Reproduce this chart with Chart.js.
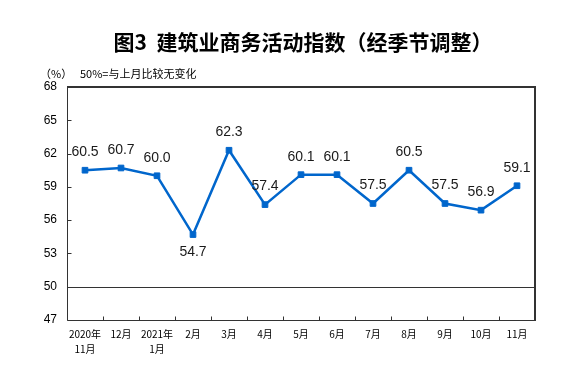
<!DOCTYPE html>
<html>
<head>
<meta charset="utf-8">
<script src="https://cdn.jsdelivr.net/npm/chart.js@4.4.1/dist/chart.umd.min.js"></script>
<style>
  html, body { margin: 0; padding: 0; background: #fff; }
  #wrap { position: relative; width: 586px; height: 377px; }
  #title { position: absolute; left: 6px; width: 594px; top: 27px; text-align: center;
    font-family: "Noto Sans CJK SC", sans-serif; font-weight: bold; font-size: 21px; line-height: 28px; color: #000; }
  #unit { position: absolute; left: 40px; top: 65px; font-family: "Noto Sans CJK SC", sans-serif; font-size: 11px; line-height: 16px; color: #000; }
  #note { position: absolute; left: 80px; top: 65px; font-family: "Noto Sans CJK SC", sans-serif; font-size: 11px; line-height: 16px; color: #000; }
  canvas { position: absolute; left: 0; top: 0; }
</style>
</head>
<body>
<div id="wrap">
  <canvas id="c" width="586" height="377"></canvas>
  <div id="title">图3&nbsp;&nbsp;建筑业商务活动指数（经季节调整）</div>
  <div id="unit">（%）</div>
  <div id="note">50%=与上月比较无变化</div>
</div>
<script>
const categories = [["2020年", "11月"], "12月", ["2021年", "1月"], "2月", "3月", "4月", "5月", "6月", "7月", "8月", "9月", "10月", "11月"];
const values = [60.5, 60.7, 60.0, 54.7, 62.3, 57.4, 60.1, 60.1, 57.5, 60.5, 57.5, 56.9, 59.1];
const labelBelow = [false, false, false, true, false, false, false, false, false, false, false, false, false];
const yMin = 47, yMax = 68, yStep = 3;

const BLUE = '#0066cc';

const framePlugin = {
  id: 'frame',
  beforeDatasetsDraw(chart) {
    const { ctx, chartArea: a, scales } = chart;
    const x = scales.x, y = scales.y;
    ctx.save();
    ctx.strokeStyle = '#333';
    ctx.lineWidth = 1;
    const y50 = Math.round(y.getPixelForValue(50)) + 0.5;
    ctx.beginPath(); ctx.moveTo(a.left, y50); ctx.lineTo(a.right, y50); ctx.stroke();
    const L = Math.round(a.left) + 0.5, B = Math.round(a.bottom) + 0.5;
    const R = Math.round(a.right), T = Math.round(a.top);
    ctx.beginPath(); ctx.moveTo(L, T); ctx.lineTo(L, B); ctx.lineTo(R, B); ctx.stroke();
    ctx.lineWidth = 2;
    ctx.beginPath(); ctx.moveTo(L - 0.5, T); ctx.lineTo(R, T); ctx.lineTo(R, B + 0.5); ctx.stroke();
    ctx.lineWidth = 1;
    y.ticks.forEach(t => {
      const py = Math.round(y.getPixelForValue(t.value)) + 0.5;
      ctx.beginPath(); ctx.moveTo(L, py); ctx.lineTo(L + 4, py); ctx.stroke();
    });
    for (let i = 0; i < categories.length - 1; i++) {
      const px = Math.round((x.getPixelForValue(i) + x.getPixelForValue(i + 1)) / 2) + 0.5;
      ctx.beginPath(); ctx.moveTo(px, B); ctx.lineTo(px, B - 4); ctx.stroke();
    }
    ctx.restore();
  }
};

const labelPlugin = {
  id: 'vlabels',
  afterDatasetsDraw(chart) {
    const { ctx } = chart;
    const meta = chart.getDatasetMeta(0);
    ctx.save();
    ctx.font = '14px "Liberation Sans", Arial, sans-serif';
    ctx.fillStyle = '#1a1a1a';
    ctx.textAlign = 'center';
    ctx.textBaseline = 'middle';
    meta.data.forEach((pt, i) => {
      const dy = labelBelow[i] ? 18 : -18;
      ctx.fillText(values[i].toFixed(1), pt.x, pt.y + dy);
    });
    ctx.restore();
  }
};

new Chart(document.getElementById('c'), {
  type: 'line',
  data: {
    labels: categories,
    datasets: [{
      data: values,
      borderColor: BLUE,
      backgroundColor: BLUE,
      borderWidth: 2.5,
      pointStyle: 'rect',
      pointRadius: 4,
      pointBorderWidth: 1,
      pointBackgroundColor: BLUE,
      pointBorderColor: BLUE,
      tension: 0
    }]
  },
  options: {
    responsive: false,
    animation: false,
    events: [],
    layout: { padding: { top: 87, right: 51, left: 0, bottom: 0 } },
    plugins: { legend: { display: false }, tooltip: { enabled: false }, title: { display: false } },
    scales: {
      x: {
        offset: true,
        grid: { display: false, drawTicks: false },
        border: { display: false },
        ticks: {
          padding: 7,
          maxRotation: 0,
          autoSkip: false,
          color: '#000',
          font: { family: '"Noto Sans CJK SC", sans-serif', size: 10, lineHeight: 1.5 }
        },
        afterFit(s) { s.height = 57; }
      },
      y: {
        min: yMin, max: yMax,
        grid: { display: false, drawTicks: false },
        border: { display: false },
        ticks: {
          stepSize: yStep,
          padding: 10,
          color: '#000',
          font: { family: '"Liberation Sans", Arial, sans-serif', size: 12 }
        },
        afterFit(s) { s.width = 67; }
      }
    }
  },
  plugins: [framePlugin, labelPlugin]
});
</script>
</body>
</html>
